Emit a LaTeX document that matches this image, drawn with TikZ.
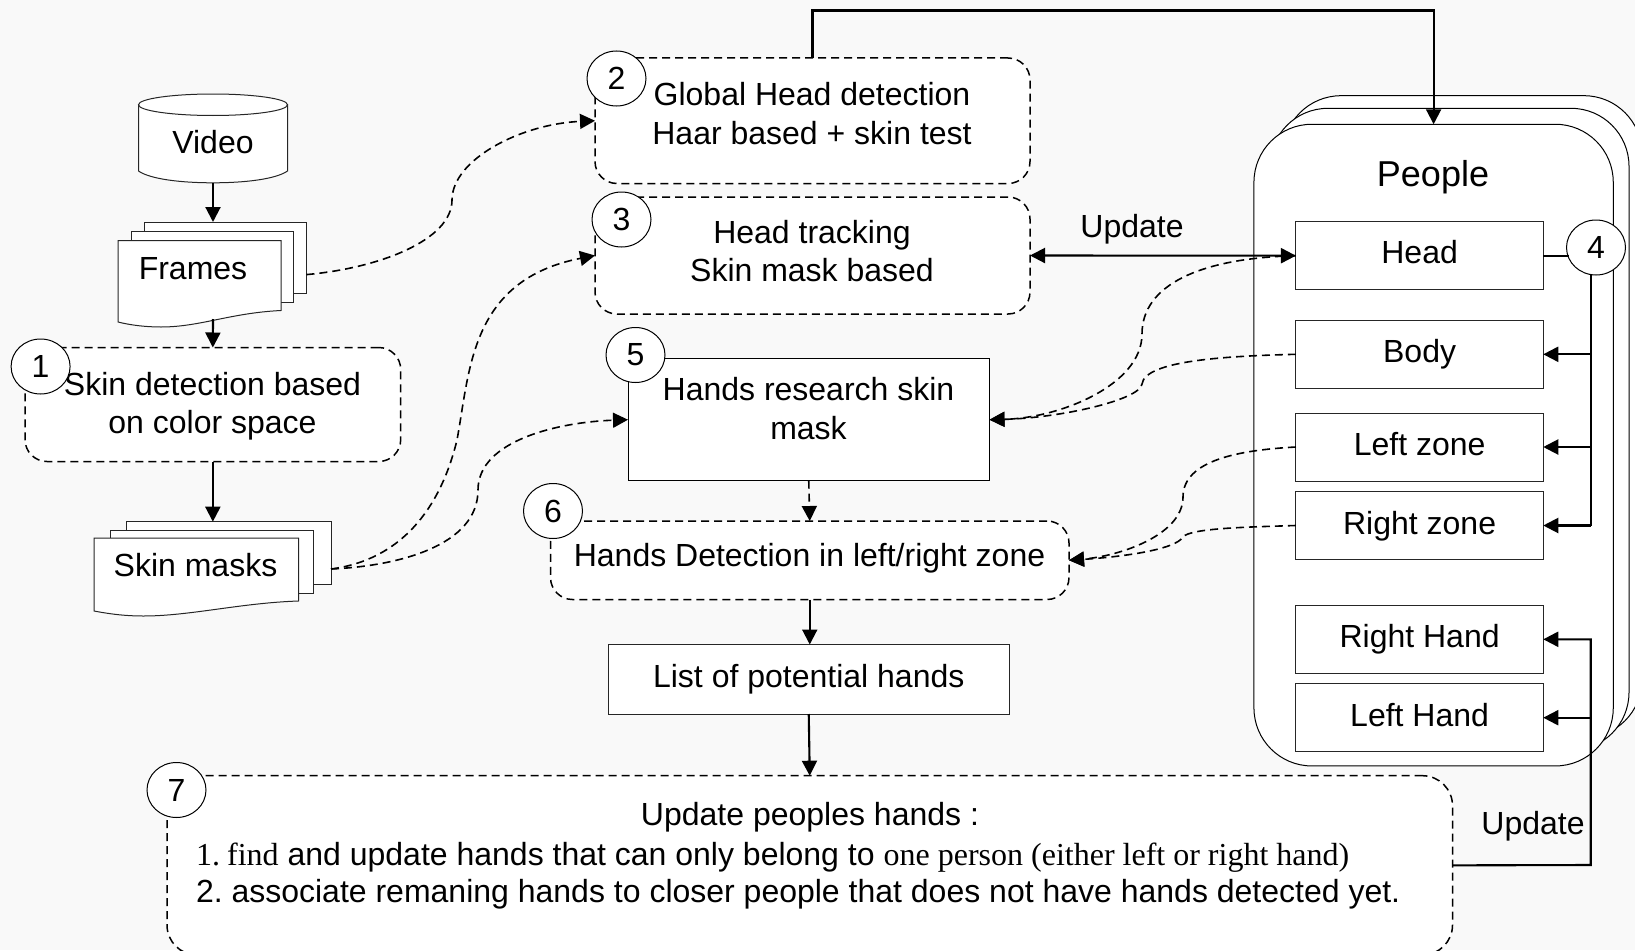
\documentclass[tikz,border=0pt]{standalone}
\usepackage{fontspec}
\setmainfont{Liberation Sans}
\newfontfamily\tms{Liberation Serif}
\usetikzlibrary{arrows.meta,shapes.geometric}
\definecolor{bgc}{HTML}{F9F9F9}
\tikzset{
  x=1pt,y=-1pt,
  txt/.style={inner sep=0pt,outer sep=0pt,align=center,font=\fontsize{32}{38.5}\selectfont},
  shp/.style={draw=black!85,line width=1pt,fill=white,inner sep=0pt,outer sep=0pt},
  sizeof/.style 2 args={minimum width=#1 pt,minimum height=#2 pt},
  solidbox/.style={shp,rectangle},
  dashbox/.style={draw=black,line width=1.5pt,fill=white,rectangle,inner sep=0pt,outer sep=0pt,rounded corners=22pt,dash pattern=on 8pt off 5pt},
  peoplebox/.style={shp,draw=black,rectangle,rounded corners=58pt},
  numc/.style={shp,draw=black,ellipse,minimum width=59pt,minimum height=55pt,font=\fontsize{32}{38}\selectfont},
  conn/.style={draw=black,line width=2.1pt,-{Triangle[length=15pt,width=15pt]}},
  plainconn/.style={draw=black,line width=2.1pt},
  dconn/.style={draw=black,line width=1.6pt,dash pattern=on 8pt off 5pt,-{Triangle[length=15pt,width=15pt]}},
}
\begin{document}
\begin{tikzpicture}
\useasboundingbox (0,0) rectangle (1635,950);
\clip (0,0) rectangle (1635,950);
\fill[bgc] (0,0) rectangle (1635,950);

% People stack
\node[peoplebox,sizeof={359}{642}] (peopleb) at (1462.5,416.7) {};
\node[peoplebox,sizeof={359}{642}] (peoplem) at (1449.5,429.3) {};
\node[peoplebox,sizeof={359.3}{641.7}] (people) at (1433.6,445.1) {};
\node[txt,font=\fontsize{36}{40}\selectfont] (peoplet) at (1433,177) {People};

% Inner boxes
\node[solidbox,sizeof={247.3}{68},label={[txt,name=headt,yshift=3.5pt]center:Head}] (head) at (1419.6,255.7) {};
\node[solidbox,sizeof={247.3}{68},label={[txt,name=bodyt,yshift=0pt]center:Body}] (body) at (1419.6,354.3) {};
\node[solidbox,sizeof={247.3}{68},label={[txt,name=lzt,yshift=3pt]center:Left zone}] (lz) at (1419.6,447) {};
\node[solidbox,sizeof={247.3}{68},label={[txt,name=rzt,yshift=-1pt]center:Right zone}] (rz) at (1419.6,525.5) {};
\node[solidbox,sizeof={247.3}{68},label={[txt,name=rht,yshift=0pt]center:Right Hand}] (rh) at (1419.6,639.3) {};
\node[solidbox,sizeof={247.3}{68},label={[txt,name=lht,yshift=3pt]center:Left Hand}] (lh) at (1419.6,717.7) {};

% Left column
\node[minimum width=149pt,minimum height=88.8pt,inner sep=0pt,outer sep=0pt] (video) at (213,138.4) {};
\draw[shp] (138.5,104.75) -- (138.5,171) .. controls (150,179) and (180,182.8) .. (213,182.8) .. controls (246,182.8) and (276,179) .. (287.5,171) -- (287.5,104.75) -- cycle;
\node[shp,ellipse,minimum width=149pt,minimum height=21.5pt] (videotop) at (213,104.75) {};
\node[txt] (videot) at (213,142) {Video};

\node[solidbox,sizeof={161.8}{71}] (fr3) at (225.6,257.5) {};
\node[solidbox,sizeof={161.9}{71}] (fr2) at (212.5,266.8) {};
\draw[shp] (118,240.5) -- (281,240.5) -- (281,310.5) .. controls (230,313) and (200,327) .. (161,327) .. controls (145,327) and (130,325) .. (118,322) -- cycle;
\node[txt] (framest) at (193,269) {Frames};
\coordinate (framesbot) at (213,319);
\coordinate (framesout) at (306.5,274.6);

\node[dashbox,sizeof={375.7}{114}] (box1) at (212.85,404.5) {};
\node[txt] (box1t) at (212.5,406) {Skin detection based\\on color space};

\node[solidbox,sizeof={204.3}{63}] (ma3) at (228.9,553.2) {};
\node[solidbox,sizeof={203.2}{62.4}] (ma2) at (212.2,561.8) {};
\draw[shp] (94,538) -- (298.5,538) -- (298.5,601) .. controls (240,603) and (190,616) .. (143.5,616) .. controls (125,616) and (110,614) .. (94,611) -- cycle;
\node[txt] (maskst) at (195.5,565) {Skin masks};
\coordinate (masksout) at (331,569);

% Centre column
\node[dashbox,sizeof={435}{125.5}] (box2) at (812.5,120.75) {};
\node[txt] (box2t) at (812,113.5) {Global Head detection\\Haar based + skin test};
\node[dashbox,sizeof={435}{117}] (box3) at (812.5,255.5) {};
\node[txt] (box3t) at (812,251) {Head tracking\\Skin mask based};
\node[solidbox,draw=black,sizeof={361.5}{122}] (box5) at (808.75,419.7) {};
\node[txt] (box5t) at (808.5,408.5) {Hands research skin\\mask};
\node[dashbox,sizeof={518.5}{78.5}] (box6) at (809.75,560.25) {};
\node[txt] (box6t) at (809.5,558) {Hands Detection in left/right zone};
\node[solidbox,sizeof={400.5}{69.5},label={[txt,name=listt,yshift=0pt]center:List of potential hands}] (list) at (808.75,679.25) {};
\node[dashbox,rounded corners=30pt,sizeof={1285.5}{179.3}] (box7) at (809.75,865.35) {};
\node[txt] (box7a) at (810,817) {Update peoples hands :};
\node[txt,anchor=base west] (box7b) at (196,865) {{\tms 1.\kern-3.5pt{} find} and update hands that can only belong to {\tms one person (either left or right hand)}};
\node[txt,anchor=base west] (box7c) at (196,902) {2.\kern-3pt{} associate remaning hands to closer people that does not have hands detected yet.};

% Number circles
\node[numc] (c4) at (1596,247.5) {4};

% Solid connectors, left column
\draw[conn] (video.south) -- (video.south |- fr3.north);
\draw[conn] (framesbot) -- (box1.north);
\draw[conn] (box1.south) -- (box1.south |- ma3.north);

% Solid connectors, centre
\coordinate (topy) at (0,10.5);
\draw[conn] (box2.north) -- (box2.north |- topy) -- (people.north |- topy) -- (people.north);
\draw[draw=black,line width=2.1pt,{Triangle[length=15pt,width=15pt]}-{Triangle[length=15pt,width=15pt]}] (box3.east) -- (head.west);
\draw[conn] (box6.south) -- (list.north -| box6.south);
\draw[conn] (list.south) -- (box7.north);
\draw[dconn] (box5.south) -- (box6.north);

% Head bus
\coordinate (bus) at (1590.7,274);
\draw[plainconn] (head.east) -- (head.east -| c4.200);
\draw[plainconn] (bus) -- (bus |- rz.east);
\draw[conn] (bus |- body.east) -- (body.east);
\draw[conn] (bus |- lz.east) -- (lz.east);
\draw[conn] (bus |- rz.east) -- (rz.east);

% Update bus
\coordinate (ubus) at (1590.7,865);
\draw[conn] (box7.east) -- (ubus) -- (ubus |- rh.east) -- (rh.east);
\draw[conn] (ubus |- lh.east) -- (lh.east);

% Dashed curves
\draw[dconn] (framesout) .. controls (380,268) and (452,240) .. (452,200) .. controls (452,160) and (520,124) .. (box2.west);
\draw[dconn] (masksout) .. controls (400,560) and (440,510) .. (457,440) .. controls (470,370) and (470,280) .. (box3.west);
\draw[dconn] (masksout) .. controls (400,566) and (478,545) .. (478,490) .. controls (478,440) and (560,422) .. (box5.west);
\draw[dconn] (head.west) .. controls (1200,258) and (1142,285) .. (1142,334) .. controls (1142,385) and (1060,418) .. (box5.east);
\draw[dconn] (body.west) .. controls (1230,356) and (1145,360) .. (1142,384) .. controls (1140,400) and (1060,418) .. (box5.east);
\draw[dconn] (lz.west) .. controls (1240,450) and (1183,460) .. (1183,497) .. controls (1183,535) and (1120,556) .. (box6.east);
\draw[dconn] (rz.west) .. controls (1250,527) and (1190,528) .. (1183,537) .. controls (1175,550) and (1120,557) .. (box6.east);

% Edge labels
\node[txt] (upd1) at (1132,229) {Update};
\node[txt] (upd2) at (1533,826) {Update};

% Remaining circles
\node[numc] (c1) at (40.6,366.5) {1};
\node[numc] (c2) at (616.5,78.5) {2};
\node[numc] (c3) at (621.5,219.5) {3};
\node[numc] (c5) at (635.5,355) {5};
\node[numc] (c6) at (553,511) {6};
\node[numc] (c7) at (176.5,790) {7};
\end{tikzpicture}
\end{document}
